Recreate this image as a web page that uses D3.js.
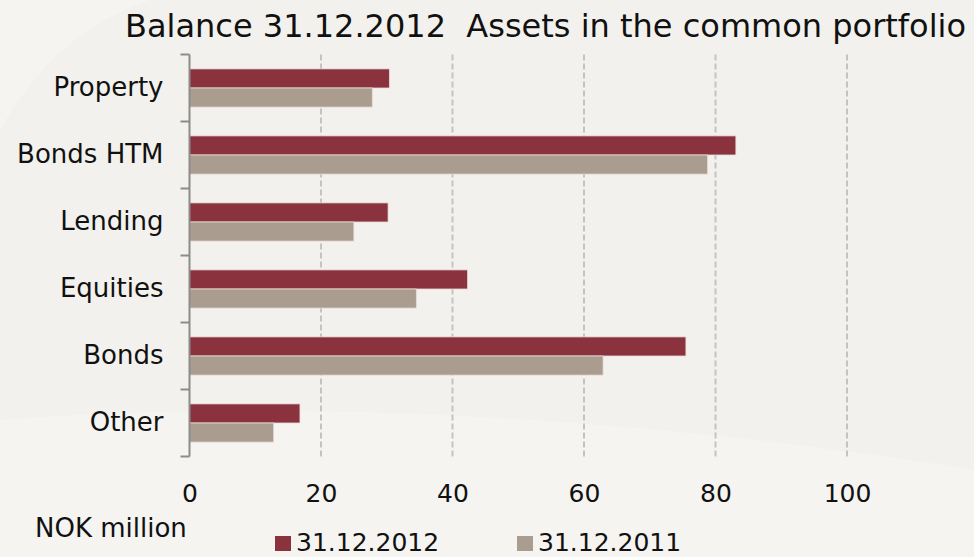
<!DOCTYPE html>
<html>
<head>
<meta charset="utf-8">
<script src="https://cdn.jsdelivr.net/npm/d3@7"></script>
<style>
  html, body { margin: 0; padding: 0; background: #f3f1ed; }
  svg { display: block; font-family: "DejaVu Sans", Verdana, sans-serif; }
</style>
</head>
<body>
<svg id="chart" width="974" height="557"></svg>
<script>
// Asset classes in the common portfolio, top to bottom
const categories = ["Property", "Bonds HTM", "Lending", "Equities", "Bonds", "Other"];
// Balance per asset class, NOK million
const values2012 = [30.4, 83.1, 30.2, 42.3, 75.5, 16.8];
const values2011 = [27.8, 78.8, 25.0, 34.5, 62.9, 12.8];
const seriesNames = ["31.12.2012", "31.12.2011"];
const seriesColors = ["#8a333f", "#aa9d90"];
const xTicks = [0, 20, 40, 60, 80, 100];
const titleText = "Balance 31.12.2012  Assets in the common portfolio";
const unitText = "NOK million";

const svg = d3.select("#chart");
const W = 974, H = 557;

// soft paper background with faint lighter swirls
svg.append("rect").attr("width", W).attr("height", H).attr("fill", "#f3f1ed");
svg.append("path")
  .attr("d", "M0,130 C40,60 90,20 150,0 L0,0 Z")
  .attr("fill", "#f5f4f1");
svg.append("path")
  .attr("d", "M0,420 C250,400 600,410 974,470 L974,557 L0,557 Z")
  .attr("fill", "#f5f4f1");

const x = d3.scaleLinear().domain([0, 120]).range([189.5, 978.5]);
const y = d3.scaleBand().domain(categories).range([54.5, 456.5])
  .paddingInner(0.43).paddingOuter(0.215);
const sub = d3.scaleBand().domain(seriesNames).range([0, y.bandwidth()]);

// dashed vertical gridlines
svg.append("g")
  .selectAll("line")
  .data(xTicks.filter(d => d > 0))
  .join("line")
  .attr("x1", d => x(d)).attr("x2", d => x(d))
  .attr("y1", y.range()[0]).attr("y2", y.range()[1])
  .attr("stroke", "#c3c3c3")
  .attr("stroke-width", 2)
  .attr("stroke-dasharray", "6,3");

// bars
const rows = categories.map((c, i) => ({ cat: c, vals: [values2012[i], values2011[i]] }));
const groups = svg.append("g").selectAll("g")
  .data(rows).join("g")
  .attr("transform", d => `translate(0,${y(d.cat)})`);
groups.selectAll("rect")
  .data(d => d.vals.map((v, k) => ({ v, k })))
  .join("rect")
  .attr("x", x(0))
  .attr("y", d => sub(seriesNames[d.k]))
  .attr("width", d => x(d.v) - x(0))
  .attr("height", sub.bandwidth())
  .attr("fill", d => seriesColors[d.k])
  .attr("stroke", "#e8dcd8")
  .attr("stroke-width", 0.8);

// category axis: labels centred on bands
const yAxis = svg.append("g")
  .attr("transform", `translate(${x(0)},0)`)
  .call(d3.axisLeft(y).tickSize(0).tickPadding(26));
yAxis.select(".domain").remove();
yAxis.selectAll("text")
  .attr("font-size", 26)
  .attr("fill", "#111")
  .attr("font-family", "DejaVu Sans, Verdana, sans-serif");

// axis line and tick marks at band boundaries
const boundaries = d3.range(categories.length + 1).map(i => y.range()[0] + i * y.step());
svg.append("line")
  .attr("x1", x(0)).attr("x2", x(0))
  .attr("y1", y.range()[0]).attr("y2", y.range()[1])
  .attr("stroke", "#8c8c8c").attr("stroke-width", 2);
svg.append("g").selectAll("line")
  .data(boundaries).join("line")
  .attr("x1", x(0) - 9).attr("x2", x(0))
  .attr("y1", d => d).attr("y2", d => d)
  .attr("stroke", "#8c8c8c").attr("stroke-width", 2);

// value axis labels
const xAxis = svg.append("g")
  .attr("transform", `translate(0,${y.range()[1]})`)
  .call(d3.axisBottom(x).tickValues(xTicks).tickSize(0).tickPadding(28));
xAxis.select(".domain").remove();
xAxis.selectAll("text")
  .attr("font-size", 25)
  .attr("fill", "#111")
  .attr("font-family", "DejaVu Sans, Verdana, sans-serif");

// title
svg.append("text")
  .attr("x", 125).attr("y", 37)
  .attr("font-size", 32)
  .attr("fill", "#111")
  .style("white-space", "pre")
  .text(titleText);

// unit label
svg.append("text")
  .attr("x", 35).attr("y", 537)
  .attr("font-size", 26)
  .attr("fill", "#111")
  .text(unitText);

// legend
const legendX = [275, 517];
const legend = svg.append("g").selectAll("g")
  .data(seriesNames).join("g")
  .attr("transform", (d, i) => `translate(${legendX[i]},536)`);
legend.append("rect")
  .attr("width", 16).attr("height", 15)
  .attr("fill", (d, i) => seriesColors[i]);
legend.append("text")
  .attr("x", 21).attr("y", 15)
  .attr("font-size", 25)
  .attr("fill", "#111")
  .text(d => d);
</script>
</body>
</html>
